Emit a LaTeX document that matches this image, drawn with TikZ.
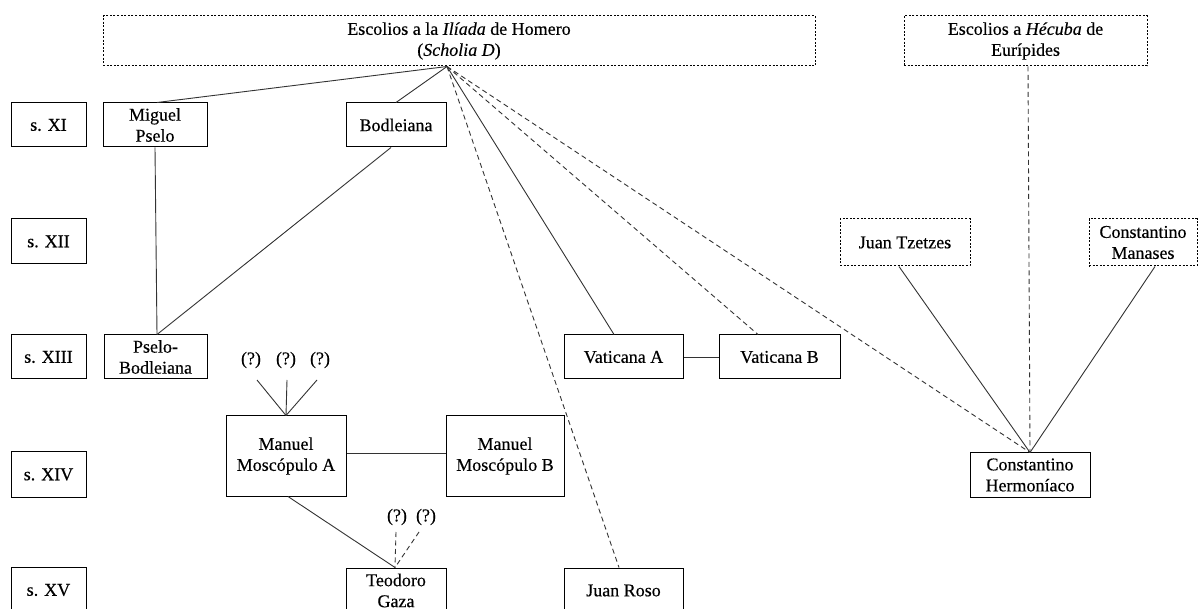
\documentclass[tikz,border=0pt]{standalone}
\usepackage{fontspec}
\setmainfont{Liberation Serif}[FakeBold=0.35]
\usetikzlibrary{calc}
\begin{document}
\begin{tikzpicture}[x=1pt,y=-1pt,
  box/.style={draw=black, line width=1pt, inner sep=0pt, align=center,
    font=\fontsize{18}{21}\selectfont},
  dotbox/.style={box, dash pattern=on 2pt off 1.6pt},
  conn/.style={line width=0.9pt, draw=black!80},
  dconn/.style={conn, dash pattern=on 5pt off 3.5pt},
  qmark/.style={inner sep=0pt, font=\fontsize{18}{21}\selectfont}]
\path[use as bounding box, clip] (0,0) rectangle (1200,609);

% century labels
\node[box, minimum width=75pt, minimum height=44pt] (sXI)   at (48.5,125)   {s. XI};
\node[box, minimum width=75pt, minimum height=45pt] (sXII)  at (48.5,241.5) {s. XII};
\node[box, minimum width=75pt, minimum height=44pt] (sXIII) at (48.5,357)   {s. XIII};
\node[box, minimum width=75pt, minimum height=45pt] (sXIV)  at (48.5,474.5) {s. XIV};
\node[box, minimum width=75pt, minimum height=45pt] (sXV)   at (48.5,590)   {s. XV};

% sources
\node[dotbox, minimum width=712pt, minimum height=50pt] (iliada) at (459,41)
  {Escolios a la \textit{Ilíada} de Homero\\(\textit{Scholia D})};
\node[dotbox, minimum width=243pt, minimum height=50pt] (hecuba) at (1025.5,41)
  {Escolios a \textit{Hécuba} de\\Eurípides};
\node[dotbox, minimum width=130pt, minimum height=47pt] (tzetzes) at (905,242.5) {Juan Tzetzes};
\node[dotbox, minimum width=108pt, minimum height=47pt] (manases) at (1143,242.5) {Constantino\\Manases};

% manuscripts / scholars
\node[box, minimum width=104pt, minimum height=44pt] (pselo)     at (155,125)   {Miguel\\Pselo};
\node[box, minimum width=100pt, minimum height=44pt] (bodleiana) at (396,125)   {Bodleiana};
\node[box, minimum width=103pt, minimum height=44pt] (pselobod)  at (155.5,357) {Pselo-\\Bodleiana};
\node[box, minimum width=119pt, minimum height=44pt] (vatA)      at (623.5,357) {Vaticana A};
\node[box, minimum width=121pt, minimum height=44pt] (vatB)      at (779.5,357) {Vaticana B};
\node[box, minimum width=120pt, minimum height=80pt] (moscA)     at (286,456)   {Manuel\\Moscópulo A};
\node[box, minimum width=118pt, minimum height=80pt] (moscB)     at (505,456)   {Manuel\\Moscópulo B};
\node[box, minimum width=120pt, minimum height=44pt] (hermon)    at (1030,475)  {Constantino\\Hermoníaco};
\node[box, minimum width=100pt, minimum height=45pt] (gaza)      at (396,590.5) {Teodoro\\Gaza};
\node[box, minimum width=119pt, minimum height=45pt] (roso)      at (623.5,590.5) {Juan Roso};

% question marks
\node[qmark] (q1) at (251,360) {(?)};
\node[qmark] (q2) at (286,360) {(?)};
\node[qmark] (q3) at (320,360) {(?)};
\node[qmark] (g1) at (397,517) {(?)};
\node[qmark] (g2) at (426,517) {(?)};

% fan point under the Iliad scholia
\coordinate (fan) at ([xshift=-12pt]iliada.south);

\draw[conn]  (fan) -- ([xshift=2pt]pselo.north);
\draw[conn]  (fan) -- (bodleiana.north);
\draw[dconn] (fan) -- ([xshift=-4.5pt]roso.north);
\draw[conn]  (fan) -- ([xshift=-9.5pt]vatA.north);
\draw[dconn] (fan) -- ([xshift=-21.5pt]vatB.north);
\draw[dconn] (fan) -- (hermon.north);

\draw[conn] (pselo.south) -- ([xshift=1.5pt]pselobod.north);
\draw[conn] ([xshift=-5pt]bodleiana.south) -- ([xshift=1.5pt]pselobod.north);

\draw[conn] (vatA.east) -- (vatB.west);

\draw[dconn] ([xshift=2.5pt]hecuba.south) -- (hermon.north);
\draw[conn] ([xshift=-6pt]tzetzes.south) -- (hermon.north);
\draw[conn] ([xshift=12pt]manases.south) -- (hermon.north);

\draw[conn] ($(q1)+(6,20)$) -- (moscA.north);
\draw[conn] ($(q2)+(1,20)$) -- (moscA.north);
\draw[conn] ($(q3)+(-3,20)$) -- (moscA.north);

\draw[conn] ([yshift=3pt]moscA.east) -- ([yshift=3pt]moscB.west);
\draw[conn] ([xshift=2pt]moscA.south) -- ([xshift=-1pt]gaza.north);

\draw[dconn] ($(g1)+(-1,15)$) -- ([xshift=-1pt]gaza.north);
\draw[dconn] ($(g2)+(-7,15)$) -- ([xshift=-1pt]gaza.north);
\end{tikzpicture}
\end{document}
